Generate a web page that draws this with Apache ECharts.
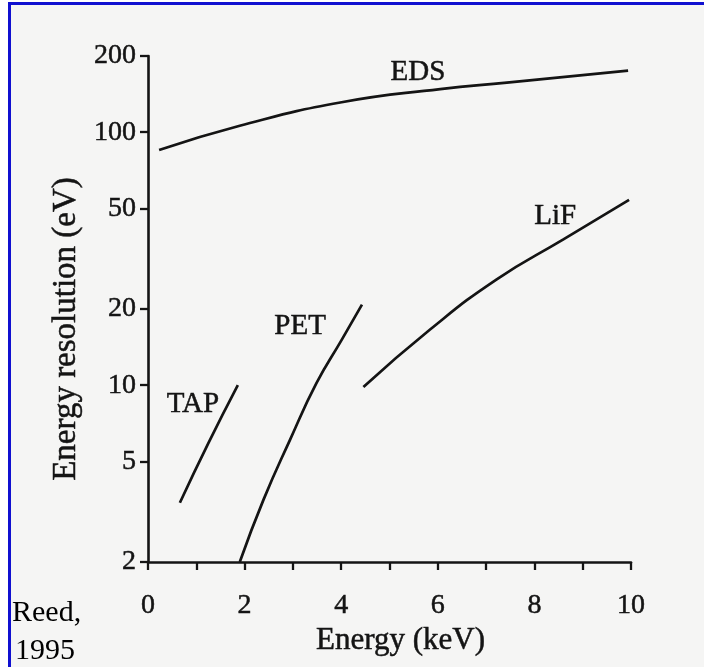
<!DOCTYPE html>
<html>
<head>
<meta charset="utf-8">
<script src="https://cdn.jsdelivr.net/npm/echarts@6/dist/echarts.min.js"></script>
<style>
html,body{margin:0;padding:0;background:#fff;}
#chart{width:704px;height:667px;}
</style>
</head>
<body>
<div id="chart"></div>
<script>
// ---- data ----
var yTicks = [2, 5, 10, 20, 50, 100, 200];
var xLabelValues = [0, 2, 4, 6, 8, 10];
var edsData = [[0.23, 85], [1.9, 106], [3.98, 131], [6.05, 148], [7.43, 157], [9.94, 175]];
var tapData = [[0.66, 3.43], [1.25, 5.9], [1.86, 10.0]];
var petData = [[1.9, 2.0], [2.39, 3.52], [2.94, 6.08], [3.49, 10.2], [4.01, 15.1], [4.43, 20.8]];
var lifData = [[4.46, 9.83], [5.84, 16.6], [7.22, 26.2], [8.6, 37.7], [9.96, 54]];
var curveLabels = [[5.59, 173, 'EDS'], [0.93, 8.4, 'TAP'], [3.15, 17.1, 'PET'], [8.43, 46.6, 'LiF']];
var xName = 'Energy (keV)';
var yName = 'Energy resolution (eV)';
var credit = ['Reed,', '1995'];

var FONT = "'Liberation Serif', 'Times New Roman', serif";
var INK = '#141414';

function lineSeries(name, data) {
  return {
    name: name, type: 'line', data: data, smooth: true, showSymbol: false, symbol: 'none',
    lineStyle: {color: INK, width: 2.7}, silent: true, z: 3
  };
}

var txt = function (size) {
  return {fontFamily: FONT, fontSize: size, color: INK, textBorderColor: INK, textBorderWidth: 0.5};
};

var chart = echarts.init(document.getElementById('chart'), null, {renderer: 'canvas'});
chart.setOption({
  backgroundColor: '#f5f5f4',
  animation: false,
  grid: {left: 148, right: 73, top: 56, bottom: 105, containLabel: false},
  xAxis: {
    type: 'value', min: 0, max: 10, interval: 1,
    name: xName, nameLocation: 'middle', nameGap: 63,
    nameTextStyle: Object.assign(txt(31), {padding: [0, 0, 0, 22]}),
    axisLine: {show: true, lineStyle: {color: INK, width: 2.6}},
    axisTick: {show: true, inside: false, length: 8, lineStyle: {color: INK, width: 2.3}},
    axisLabel: Object.assign(txt(28), {margin: 30, customValues: xLabelValues}),
    splitLine: {show: false}
  },
  yAxis: {
    type: 'log', logBase: 10, min: 2, max: 200,
    name: yName, nameLocation: 'middle', nameGap: 58, nameRotate: 90,
    nameTextStyle: Object.assign(txt(33), {padding: [0, 40, 0, 0]}),
    axisLine: {show: true, lineStyle: {color: INK, width: 2.6}},
    axisTick: {show: true, inside: false, length: 8, lineStyle: {color: INK, width: 2.3}, customValues: yTicks},
    axisLabel: Object.assign(txt(28), {margin: 12, customValues: yTicks}),
    splitLine: {show: false}
  },
  series: [
    lineSeries('EDS', edsData),
    lineSeries('TAP', tapData),
    lineSeries('PET', petData),
    lineSeries('LiF', lifData),
    {
      name: 'labels', type: 'scatter', symbolSize: 0, silent: true, z: 4,
      itemStyle: {opacity: 1, color: INK},
      data: curveLabels.map(function (d) { return {value: [d[0], d[1]], name: d[2]}; }),
      label: Object.assign(txt(29), {show: true, position: 'inside', formatter: '{b}', opacity: 1})
    }
  ],
  graphic: [
    {type: 'rect', shape: {x: 0, y: 0, width: 8, height: 667}, style: {fill: '#ffffff'}, silent: true},
    {type: 'rect', shape: {x: 0, y: 0, width: 704, height: 2}, style: {fill: '#ffffff'}, silent: true},
    {type: 'rect', shape: {x: 8, y: 2, width: 696, height: 3}, style: {fill: '#1010d0'}, silent: true},
    {type: 'rect', shape: {x: 8, y: 2, width: 3, height: 665}, style: {fill: '#1010d0'}, silent: true},
    {type: 'text', x: 12, y: 613, style: {text: credit[0], font: '30px ' + FONT, fill: '#000', verticalAlign: 'middle', align: 'left'}, silent: true},
    {type: 'text', x: 15, y: 651, style: {text: credit[1], font: '30px ' + FONT, fill: '#000', verticalAlign: 'middle', align: 'left'}, silent: true}
  ]
});
</script>
</body>
</html>
